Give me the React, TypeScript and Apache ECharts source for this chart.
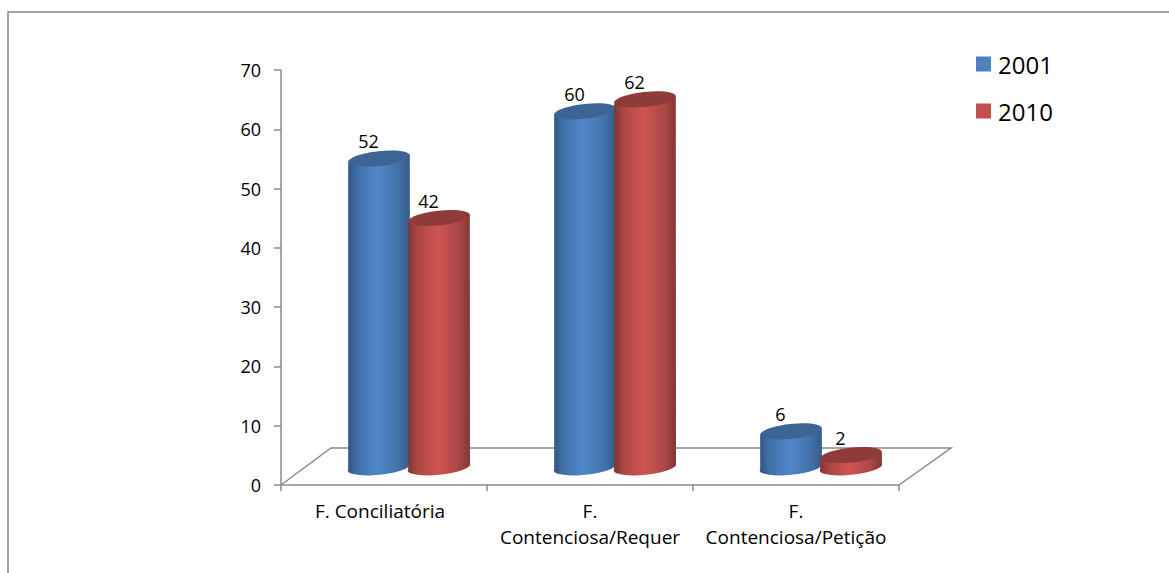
import React, { useEffect, useRef } from "react";
import * as echarts from "echarts";

const categories = ["F. Conciliatória", "F.\nContenciosa/Requer", "F.\nContenciosa/Petição"];
const values2001 = [52, 60, 6];
const values2010 = [42, 62, 2];
const yTicks = { min: 0, max: 70, interval: 10 };

const FONT = "'Open Sans', sans-serif";
const AXIS_GREY = "#8a8a8a";

// Perspective shift of the cylinders' base relative to the front axis plane
const DEPTH_X = 25;
const DEPTH_Y = -18;
const BASE_LIFT = 1.5;
const RX = 31;
const RY = 7.4;
const TILT = -6.4;

function cylinder(sideOffset: number, side: string[], top: string) {
  const rad = (TILT * Math.PI) / 180;
  const dx = RX * Math.cos(rad);
  const dy = RX * Math.sin(rad);

  return (_params: any, api: any) => {
    const idx = api.value(0);
    const val = api.value(1);
    const [x, yTop] = api.coord([idx, val]);
    const [, yBase] = api.coord([idx, 0]);
    const cx = x + DEPTH_X + sideOffset;
    const ty = yTop + DEPTH_Y;
    const by = yBase + DEPTH_Y - BASE_LIFT;

    const body =
      `M${cx - dx} ${ty - dy}L${cx - dx} ${by - dy}` +
      `A${RX} ${RY} ${TILT} 0 0 ${cx + dx} ${by + dy}L${cx + dx} ${ty + dy}Z`;

    return {
      type: "group",
      children: [
        {
          type: "path",
          shape: { pathData: body },
          style: {
            fill: new echarts.graphic.LinearGradient(0, 0, 1, 0, [
              { offset: 0, color: side[0] },
              { offset: 0.14, color: side[1] },
              { offset: 0.48, color: side[2] },
              { offset: 0.82, color: side[3] },
              { offset: 1, color: side[4] },
            ]),
          },
        },
        {
          type: "ellipse",
          x: cx,
          y: ty,
          rotation: -rad,
          shape: { cx: 0, cy: 0, rx: RX, ry: RY },
          style: { fill: top },
        },
        {
          type: "text",
          style: {
            text: String(val),
            x: cx - 10.5,
            y: ty - 17.5,
            align: "center",
            verticalAlign: "middle",
            fill: "#000",
            font: `18px ${FONT}`,
          },
        },
      ],
    };
  };
}

export default function App() {
  const ref = useRef<HTMLDivElement>(null);

  useEffect(() => {
    const chart = echarts.init(ref.current!, undefined, { renderer: "svg" });
    chart.setOption({
      animation: false,
      backgroundColor: "#fff",
      grid: { left: 281, top: 70, width: 618, height: 415 },
      legend: {
        orient: "vertical",
        left: 976,
        top: 49,
        padding: 0,
        itemWidth: 15,
        itemHeight: 15,
        itemGap: 17,
        icon: "rect",
        selectedMode: false,
        data: [
          { name: "2001", itemStyle: { color: "#4f81bd" } },
          { name: "2010", itemStyle: { color: "#c0504d" } },
        ],
        textStyle: { fontFamily: FONT, fontSize: 24, color: "#000", lineHeight: 27, padding: [0, 0, 3, 2] },
      },
      xAxis: {
        type: "category",
        data: categories.map((value, i) =>
          // The single-line label sits a little left of its band centre
          i === 0 ? { value, textStyle: { padding: [0, 8, 0, 0] } } : value,
        ),
        axisLine: { show: true, lineStyle: { color: AXIS_GREY, width: 1.5 } },
        axisTick: { show: true, alignWithLabel: false, length: 6, lineStyle: { color: AXIS_GREY, width: 1.5 } },
        axisLabel: {
          color: "#000",
          fontFamily: FONT,
          fontSize: 19,
          lineHeight: 26,
          margin: 13,
          interval: 0,
        },
      },
      yAxis: {
        type: "value",
        ...yTicks,
        splitLine: { show: false },
        axisLine: { show: true, lineStyle: { color: AXIS_GREY, width: 1.5 } },
        axisTick: { show: true, length: 7, lineStyle: { color: AXIS_GREY, width: 1.5 } },
        axisLabel: { color: "#000", fontFamily: FONT, fontSize: 18, margin: 20 },
      },
      // Chart frame and the perspective floor
      graphic: [
        {
          type: "polyline",
          silent: true,
          z: 0,
          shape: { points: [[8, 573], [8, 12], [1169, 12]] },
          style: { stroke: "#868686", lineWidth: 1.5, fill: "none" },
        },
        {
          type: "polyline",
          silent: true,
          z: 0,
          shape: { points: [[281, 485], [331, 448], [951, 448], [899, 485]] },
          style: { stroke: AXIS_GREY, lineWidth: 1.5, fill: "none" },
        },
      ],
      series: [
        {
          name: "2001",
          type: "custom",
          z: 3,
          clip: false,
          encode: { x: 0, y: 1 },
          data: values2001.map((v, i) => [i, v]),
          itemStyle: { color: "#4f81bd" },
          renderItem: cylinder(-30, ["#2f5480", "#3f6ea6", "#5188c9", "#4271a8", "#365c8a"], "#3c6595"),
        },
        {
          name: "2010",
          type: "custom",
          z: 4,
          clip: false,
          encode: { x: 0, y: 1 },
          data: values2010.map((v, i) => [i, v]),
          itemStyle: { color: "#c0504d" },
          renderItem: cylinder(30, ["#7d3432", "#a84543", "#cf5552", "#a94744", "#823836"], "#8e3b39"),
        },
      ],
    });
    return () => chart.dispose();
  }, []);

  return (
    <div
      ref={ref}
      style={{ position: "absolute", left: 0, top: 0, width: 1169, height: 573 }}
    />
  );
}
